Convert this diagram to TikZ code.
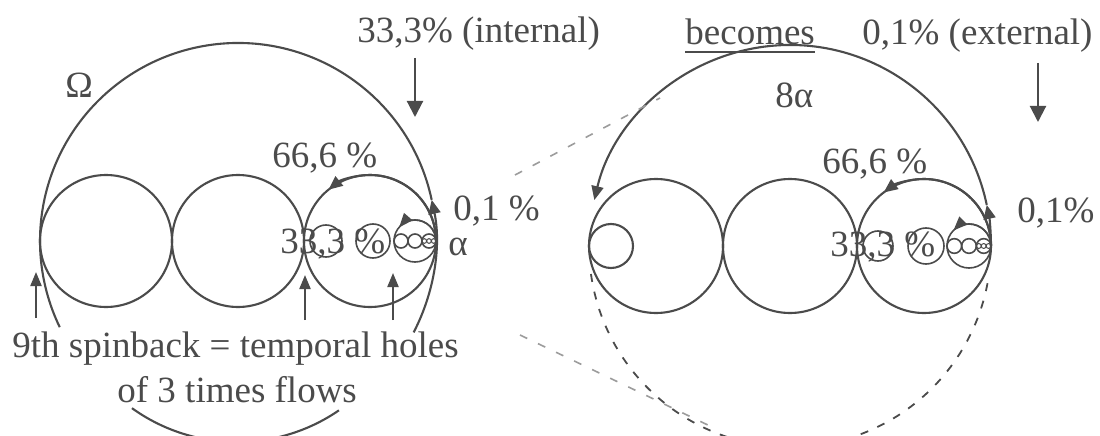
\documentclass[tikz,border=0pt]{standalone}
\usepackage{fontspec}
\setmainfont{Liberation Serif}
\usetikzlibrary{arrows.meta,calc}
\definecolor{ink}{RGB}{75,75,75}
\begin{document}
\begin{tikzpicture}[x=0.5pt,y=0.5pt,
  ln/.style={draw=ink,line width=1.05pt},
  thin/.style={draw=ink,line width=0.8pt},
  tipa/.style={-{Triangle[length=7pt,width=6pt]}},
  tipb/.style={-{Triangle[length=7pt,width=5.5pt]}},
  tipc/.style={-{Triangle[length=8pt,width=8pt]}},
  dsh/.style={draw=ink,line width=0.9pt,dash pattern=on 4pt off 5pt},
  faint/.style={draw=ink!55,line width=0.8pt,dash pattern=on 4pt off 6pt},
  lbl/.style={anchor=base west,inner sep=0pt,text=ink,font=\fontsize{18.5}{22}\selectfont}]
\useasboundingbox (0,0) rectangle (1100,435);
\clip (0,0) rectangle (1100,435);
\fill[white] (0,0) rectangle (1100,435);

% ---------------- left diagram ----------------
\coordinate (cL) at (238,194);
\coordinate (l1) at (106,194);
\coordinate (l2) at (238,194);
\coordinate (l3) at (370,194);
\foreach \c in {l1,l2,l3} \draw[ln] (\c) circle[radius=66];
% big Omega arc
\draw[ln,tipa] ($(cL)+(-27.5:198)$) arc[start angle=-27.5,end angle=12,radius=198];
\draw[ln] ($(cL)+(12:198)$) arc[start angle=12,end angle=205.8,radius=198];
% 66,6 arrow on third circle
\draw[ln,tipa] ($(l3)+(0:66)$) arc[start angle=0,end angle=129,radius=66];
% small nested circles
\draw[thin] (326,194) circle[radius=16];
\draw[thin] (373,194) circle[radius=17];
\coordinate (ls) at (415,194);
\draw[thin] (ls) circle[radius=21];
\foreach \x in {401,415,429} \draw[thin] (\x,194) circle[radius=7];
\foreach \x in {424.3,429,433.7} \draw[line width=0.5pt,draw=ink] (\x,194) circle[radius=2.33];
\draw[thin,tipb] ($(ls)+(0:21)$) arc[start angle=0,end angle=139,radius=21];
% straight arrows
\coordinate (dA0) at (415,377); \coordinate (dA1) at (415,318);
\draw[ln,tipc] (dA0) -- (dA1);
\coordinate (u10) at (36,117); \coordinate (u11) at (36,163);
\draw[ln,tipb] (u10) -- (u11);
\coordinate (u20) at (305,115); \coordinate (u21) at (305,160);
\draw[ln,tipb] (u20) -- (u21);
\coordinate (u30) at (393,115); \coordinate (u31) at (393,162);
\draw[ln,tipb] (u30) -- (u31);
% bottom arc
\coordinate (cB) at (237,173);
\draw[ln] ($(cB)+(234.3:180)$) arc[start angle=234.3,end angle=304.5,radius=180];

% labels left
\node[lbl] (tInt) at (357,393) {33,3\% (internal)};
\node[lbl] (tOm) at (65,337) {Ω};
\node[lbl] (t66L) at (272,268) {66,6 \%};
\node[lbl] (t01L) at (453,214) {0,1 \%};
\node[lbl] (tal) at (448,180) {α};
\node[lbl] (t33L) at (280,182) {33,3 \%};
\node[lbl] (tSp) at (12,78) {9th spinback = temporal holes};
\node[lbl] (tOf) at (117,33) {of 3 times flows};

% ---------------- right diagram ----------------
\coordinate (cR) at (790,189);
\coordinate (r1) at (656,189);
\coordinate (r2) at (790,189);
\coordinate (r3) at (924,189);
\foreach \c in {r1,r2,r3} \draw[ln] (\c) circle[radius=67];
\draw[ln] (611,189) circle[radius=22];
% big 8alpha arc
\draw[ln,tipa] ($(cR)+(0:201)$) arc[start angle=0,end angle=11.8,radius=201];
\draw[ln,tipa] ($(cR)+(11.8:201)$) arc[start angle=11.8,end angle=166.8,radius=201];
% dashed continuation
\draw[dsh] ($(cR)+(188:201)$) arc[start angle=188,end angle=352,radius=201];
% 66,6 arrow on third circle
\draw[ln,tipa] ($(r3)+(0:67)$) arc[start angle=0,end angle=127,radius=67];
% nested small circles
\draw[thin] (878,189) circle[radius=15];
\draw[thin] (926,189) circle[radius=18];
\coordinate (rs) at (969,189);
\draw[thin] (rs) circle[radius=22];
\foreach \x in {954.3,969,983.7} \draw[thin] (\x,189) circle[radius=7.33];
\foreach \x in {978.8,983.7,988.6} \draw[line width=0.5pt,draw=ink] (\x,189) circle[radius=2.44];
\draw[thin,tipb] ($(rs)+(0:22)$) arc[start angle=0,end angle=135,radius=22];
% down arrow
\coordinate (dB0) at (1038,372); \coordinate (dB1) at (1038,313);
\draw[ln,tipc] (dB0) -- (dB1);
% faint projection lines
\coordinate (p1a) at (515,260); \coordinate (p1b) at (660,337);
\coordinate (p2a) at (520,100); \coordinate (p2b) at (712,8);
\draw[faint] (p1a) -- (p1b);
\draw[faint] (p2a) -- (p2b);

% labels right
\node[lbl] (tBec) at (685,390) {becomes};
\draw[thin] ($(tBec.base west)+(0,-7)$) -- ($(tBec.base east)+(0,-7)$);
\node[lbl] (tExt) at (862,390) {0,1\% (external)};
\node[lbl] (t8a) at (775,328) {8α};
\node[lbl] (t66R) at (822,262) {66,6 \%};
\node[lbl] (t01R) at (1017,213) {0,1\%};
\node[lbl] (t33R) at (830,178) {33,3 \%};
\end{tikzpicture}
\end{document}
